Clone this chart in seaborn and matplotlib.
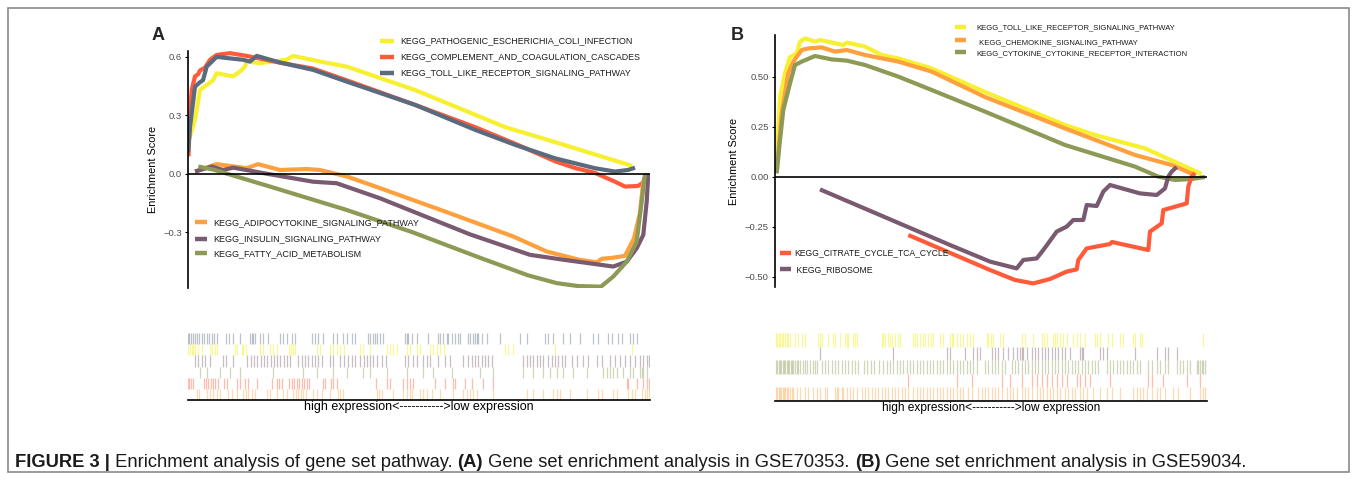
import matplotlib
matplotlib.use("Agg")
import matplotlib.pyplot as plt
from matplotlib.lines import Line2D
from matplotlib.patches import Rectangle
import seaborn as sns
import pandas as pd

# ---------------- estilo ----------------
sns.set_theme(style="white")
plt.rcParams["font.family"] = ["Liberation Sans", "DejaVu Sans"]
plt.rcParams["axes.unicode_minus"] = True

W, H = 1357, 480
AMARILLO = "#F7F030"
ROJO = "#FF5B3A"
GRIS_AZUL = "#5B6B7E"
NARANJA = "#FFA03E"
MORADO = "#7A5A70"
VERDE = "#8C9A56"
GRIS_TICK = "#4D4D4D"

# ---------------- datos panel A (GSE70353) ----------------
# curvas de enrichment score (posicion de rango, ES)
a_coli_x = [0, 7, 12, 25, 28.7, 45, 52, 57, 58.7, 72, 98.7, 105, 132, 158.7, 227, 317, 360, 444]
a_coli_y = [0.16, 0.277, 0.43, 0.48, 0.516, 0.50, 0.525, 0.55, 0.576, 0.568, 0.585, 0.605, 0.576, 0.55, 0.43, 0.24, 0.174, 0.041]
a_compl_x = [0.5, 2, 3.7, 7, 10, 12, 17, 22, 28.7, 42, 58.7, 92, 125, 158.7, 227, 287, 327, 367, 387, 407, 427, 437, 450, 455, 457, 459]
a_compl_y = [0.09, 0.30, 0.43, 0.50, 0.51, 0.53, 0.545, 0.585, 0.61, 0.619, 0.605, 0.57, 0.54, 0.48, 0.354, 0.24, 0.155, 0.065, 0.03, 0.005, -0.04, -0.065, -0.062, -0.045, -0.02, 0.0]
a_toll_x = [0, 2, 7, 12, 15, 18.7, 28.7, 38.7, 55, 62, 68.7, 92, 125.3, 158.7, 227, 287, 327, 367, 407, 427, 440, 447]
a_toll_y = [0.11, 0.24, 0.447, 0.47, 0.48, 0.55, 0.60, 0.594, 0.585, 0.576, 0.605, 0.571, 0.533, 0.473, 0.354, 0.226, 0.149, 0.08, 0.029, 0.012, 0.02, 0.032]
a_adipo_x = [7, 28.7, 58.7, 70, 92, 118.7, 132, 158.7, 192, 258.7, 325.3, 358.7, 392, 408.7, 414, 425, 437, 442, 446, 452, 455, 458]
a_adipo_y = [0.012, 0.05, 0.029, 0.05, 0.02, 0.025, 0.02, -0.013, -0.073, -0.196, -0.321, -0.398, -0.441, -0.453, -0.435, -0.43, -0.42, -0.37, -0.33, -0.2, -0.05, -0.005]
a_insul_x = [7, 23.7, 35, 45.3, 75.3, 125, 148.7, 192, 282, 342, 375.3, 425.3, 438.7, 448.7, 455.3, 458.7, 460.3]
a_insul_y = [0.012, 0.038, 0.02, 0.032, 0.004, -0.04, -0.048, -0.125, -0.31, -0.415, -0.44, -0.475, -0.45, -0.381, -0.313, -0.142, 0.0]
a_fatty_x = [10.3, 25.3, 82, 158.7, 225, 292, 340, 368.7, 390, 413, 425.3, 438.7, 448.7, 453.7, 457]
a_fatty_y = [0.038, 0.022, -0.065, -0.185, -0.3, -0.43, -0.52, -0.56, -0.575, -0.578, -0.526, -0.45, -0.347, -0.142, 0.0]

# posiciones de los genes (rug) panel A
a_rug_toll = [0, 1, 3, 5, 7, 9, 11, 14, 16, 19, 21, 24, 26, 29, 38, 41, 45, 52, 62, 64, 65, 67, 72, 75, 80, 92, 95, 99,
              104, 107, 124, 127, 130, 135, 145, 149, 155, 159, 164, 167, 180, 182, 185, 187, 189, 192, 195, 217, 219,
              220, 224, 229, 240, 250, 252, 255, 259, 260, 264, 267, 270, 272, 280, 282, 285, 287, 289, 290, 294, 299,
              312, 332, 339, 357, 360, 365, 375, 382, 392, 405, 410, 420, 424, 430, 434, 442, 445, 449]
a_rug_coli = [0, 2, 4, 5, 7, 10, 14, 22, 24, 27, 29, 47, 49, 54, 55, 58, 72, 75, 82, 85, 89, 101, 103, 105, 107, 129, 132,
              142, 145, 149, 152, 156, 172, 175, 182, 199, 202, 205, 209, 219, 222, 229, 232, 242, 245, 249, 252, 256,
              317, 320, 325, 367, 444]
a_rug_insul = [7, 10, 14, 17, 22, 35, 38, 45, 59, 63, 66, 69, 73, 76, 79, 83, 86, 89, 92, 96, 99, 102, 110, 114, 117, 120,
               124, 127, 130, 134, 142, 145, 152, 156, 160, 164, 167, 172, 176, 179, 182, 185, 189, 194, 198, 217, 220,
               225, 229, 235, 239, 242, 250, 257, 262, 275, 280, 284, 287, 290, 294, 297, 300, 304, 335, 339, 342, 345,
               349, 352, 355, 360, 364, 367, 370, 374, 377, 384, 389, 395, 400, 409, 414, 422, 427, 432, 437, 442, 447,
               452, 455, 459, 461]
a_rug_fatty = [12, 19, 32, 42, 52, 85, 115, 129, 145, 159, 175, 182, 199, 219, 235, 245, 264, 292, 305, 335, 345, 355, 362,
               369, 375, 385, 399, 415, 419, 422, 425, 429, 435, 442, 445, 452, 454, 455, 459]
a_rug_compl = [0, 1, 3, 5, 16, 18, 20, 23, 25, 27, 30, 36, 39, 49, 52, 57, 60, 69, 84, 89, 91, 94, 101, 104, 106, 109, 111,
               114, 116, 119, 121, 135, 137, 143, 145, 149, 188, 199, 202, 215, 219, 222, 225, 247, 257, 265, 267, 277,
               284, 295, 305, 439, 440, 449, 455, 459, 461]
a_rug_adipo = [9, 11, 19, 22, 25, 29, 32, 40, 44, 49, 55, 58, 60, 64, 67, 79, 82, 89, 95, 99, 105, 108, 110, 113, 115, 118,
               125, 129, 134, 142, 150, 152, 155, 189, 191, 194, 205, 215, 219, 222, 224, 232, 235, 239, 244, 252, 265,
               275, 279, 282, 285, 289, 305, 339, 345, 355, 365, 369, 372, 382, 399, 410, 414, 425, 429, 440, 444, 447,
               454, 457, 459, 461, 462]

# ---------------- datos panel B (GSE59034) ----------------
b_toll_x = [1.7, 5, 10, 15, 21.7, 25, 30, 40, 45, 68.3, 71.7, 90, 106.7, 123.3, 156.7, 210, 290, 320, 370, 426.7]
b_toll_y = [0.068, 0.40, 0.52, 0.60, 0.617, 0.677, 0.693, 0.677, 0.685, 0.66, 0.672, 0.652, 0.61, 0.593, 0.543, 0.425, 0.26, 0.21, 0.143, 0.015]
b_chemo_x = [1.7, 6.7, 13.3, 18.3, 26.7, 33.3, 46.7, 60, 71.7, 90, 123.3, 156.7, 210, 290, 360, 396.7, 420]
b_chemo_y = [0.027, 0.32, 0.52, 0.577, 0.635, 0.643, 0.648, 0.627, 0.635, 0.61, 0.577, 0.527, 0.40, 0.243, 0.11, 0.06, 0.01]
b_cyto_x = [1.7, 5, 8.3, 15, 20, 26.7, 40, 56.7, 71.7, 90, 123.3, 156.7, 210, 290, 360, 383.3, 400, 416.7, 430]
b_cyto_y = [0.018, 0.185, 0.335, 0.468, 0.56, 0.577, 0.605, 0.588, 0.582, 0.56, 0.502, 0.435, 0.327, 0.16, 0.052, 0.002, -0.015, -0.01, 0.0]
b_citrate_x = [133.3, 215, 240, 258.3, 275, 291.7, 301.7, 303.3, 311.7, 335, 337, 373.3, 375, 386.7, 388.3, 411.7, 413.3, 416.7, 420]
b_citrate_y = [-0.29, -0.465, -0.515, -0.532, -0.51, -0.473, -0.462, -0.415, -0.357, -0.335, -0.325, -0.365, -0.273, -0.232, -0.165, -0.132, -0.048, 0.002, 0.02]
b_ribo_x = [45, 175, 215, 241.7, 248.3, 261.7, 268.3, 281.7, 291.7, 298.3, 308.3, 311.7, 321.7, 328.3, 335, 365, 381.7, 390, 393.3, 396.7, 401.7]
b_ribo_y = [-0.062, -0.34, -0.423, -0.457, -0.415, -0.407, -0.365, -0.273, -0.248, -0.215, -0.215, -0.14, -0.145, -0.073, -0.04, -0.082, -0.09, -0.057, 0.002, 0.027, 0.05]

b_rug_toll = [1, 2, 4, 5, 7, 8, 10, 12, 13, 15, 20, 23, 27, 30, 43, 45, 47, 53, 58, 60, 65, 70, 72, 73, 78, 80, 82, 107,
              108, 110, 113, 115, 117, 120, 123, 125, 138, 140, 142, 145, 148, 150, 153, 156, 158, 165, 168, 175, 177,
              178, 182, 185, 188, 192, 195, 198, 212, 213, 216, 218, 225, 228, 247, 250, 258, 267, 269, 272, 278, 280,
              282, 285, 288, 292, 298, 302, 305, 310, 320, 322, 325, 333, 337, 345, 348, 358, 360, 365, 367, 428]
b_rug_ribo = [45, 118, 172, 175, 190, 198, 202, 205, 217, 220, 223, 228, 233, 238, 242, 245, 247, 248, 252, 257, 260, 263,
              267, 270, 273, 277, 280, 283, 287, 290, 295, 305, 307, 308, 325, 328, 332, 360, 382, 390, 393, 402]
b_rug_cyto = [1, 2, 4, 5, 6, 8, 9, 10, 12, 13, 14, 16, 17, 18, 20, 22, 23, 25, 28, 30, 32, 35, 38, 40, 42, 47, 50, 53, 57,
              60, 63, 67, 70, 73, 77, 80, 83, 89, 92, 96, 99, 104, 108, 112, 115, 118, 122, 125, 128, 132, 135, 138, 142,
              145, 148, 152, 155, 158, 162, 165, 168, 172, 175, 178, 182, 185, 188, 192, 195, 198, 202, 210, 213, 217,
              220, 223, 227, 230, 237, 240, 243, 247, 250, 253, 257, 260, 263, 267, 270, 273, 277, 280, 283, 287, 290,
              293, 297, 300, 303, 307, 310, 313, 317, 320, 323, 332, 335, 338, 342, 345, 348, 352, 355, 358, 362, 365,
              373, 377, 382, 385, 390, 393, 402, 405, 408, 412, 415, 422, 423, 425, 427, 428, 430, 432]
b_rug_citrate = [133, 182, 197, 227, 235, 247, 257, 262, 267, 272, 277, 282, 287, 292, 302, 305, 310, 315, 335, 373, 377,
                 388, 412, 425]
b_rug_chemo = [1, 2, 4, 5, 6, 8, 9, 10, 12, 13, 15, 17, 18, 22, 25, 30, 33, 38, 42, 45, 50, 52, 60, 62, 63, 67, 68, 72, 75,
               78, 82, 87, 90, 93, 97, 100, 103, 107, 110, 113, 117, 120, 123, 127, 130, 133, 138, 142, 145, 148, 152,
               155, 158, 162, 165, 168, 172, 175, 178, 182, 185, 188, 193, 197, 203, 207, 210, 213, 217, 220, 223, 227,
               232, 235, 238, 242, 247, 250, 253, 257, 262, 265, 268, 272, 275, 278, 282, 285, 290, 293, 297, 300, 305,
               308, 312, 318, 325, 332, 337, 345, 358, 362, 365, 368, 372, 377, 382, 385, 390, 398, 403, 415, 425, 428,
               430, 432]

# ---------------- helpers ----------------
def fx(px):
    return px / W


def fy(py):
    return 1 - py / H


def crear_eje(fig, x0, x1, y0, y1):
    # y0 arriba, y1 abajo en pixeles
    return fig.add_axes([fx(x0), fy(y1), fx(x1) - fx(x0), fy(y0) - fy(y1)])


def dibujar_curvas(ax, series):
    for xs, ys, color in series:
        sns.lineplot(x=xs, y=ys, color=color, linewidth=3, sort=False, estimator=None,
                     ax=ax, solid_capstyle="butt")


def estilo_curvas(ax, xmax, ylim, yticks):
    ax.set_xlim(0, xmax)
    ax.set_ylim(*ylim)
    ax.set_yticks(yticks)
    ax.axhline(0, color="black", linewidth=1.2, zorder=5)
    for s in ["top", "right", "bottom"]:
        ax.spines[s].set_visible(False)
    ax.spines["left"].set_color("black")
    ax.spines["left"].set_linewidth(1.2)
    ax.set_xticks([])
    ax.tick_params(axis="y", length=2.5, width=0.8, color="black", labelsize=6.8,
                   labelcolor=GRIS_TICK, left=True, pad=2)
    ax.set_ylabel("Enrichment Score", fontsize=7.8, color="black", labelpad=4)
    ax.set_xlabel("")
    ax.patch.set_alpha(0)


def dibujar_rug(ax, filas, xmax, etiqueta, tam):
    n = len(filas)
    for i, (pos, color) in enumerate(filas):
        ax.vlines(pos, n - i - 1, n - i, color=color, alpha=0.4, linewidth=0.9)
    ax.set_xlim(0, xmax)
    ax.set_ylim(0, n)
    ax.set_xticks([])
    ax.set_yticks([])
    for s in ["top", "right", "left"]:
        ax.spines[s].set_visible(False)
    ax.spines["bottom"].set_color("black")
    ax.spines["bottom"].set_linewidth(1.2)
    ax.set_xlabel(etiqueta, fontsize=tam, color="black", labelpad=0.5)
    ax.patch.set_alpha(0)


def leyenda(fig, items, x_handle, x_text, tam):
    for color, texto, py_h, py_t in items:
        fig.add_artist(Line2D([fx(x_handle[0]), fx(x_handle[1])], [fy(py_h), fy(py_h)],
                              color=color, linewidth=3.2, transform=fig.transFigure, solid_capstyle="butt"))
        fig.text(fx(x_text), fy(py_t), texto, fontsize=tam, color="#1a1a1a", va="center", ha="left")


# ---------------- figura ----------------
fig = plt.figure(figsize=(W / 100, H / 100), dpi=100)
fig.patch.set_facecolor("white")
fig.add_artist(Rectangle((fx(8), fy(472)), fx(1349) - fx(8), fy(8) - fy(472), transform=fig.transFigure,
                         fill=False, edgecolor="#8a8a8a", linewidth=1.2))

# Panel A
ax_a = crear_eje(fig, 188, 650, 51, 288)
dibujar_curvas(ax_a, [
    (a_coli_x, a_coli_y, AMARILLO),
    (a_compl_x, a_compl_y, ROJO),
    (a_toll_x, a_toll_y, GRIS_AZUL),
    (a_adipo_x, a_adipo_y, NARANJA),
    (a_insul_x, a_insul_y, MORADO),
    (a_fatty_x, a_fatty_y, VERDE),
])
estilo_curvas(ax_a, 462, (-0.585, 0.63), [-0.3, 0.0, 0.3, 0.6])

rug_a = crear_eje(fig, 188, 650, 333, 400)
dibujar_rug(rug_a, [
    (a_rug_toll, GRIS_AZUL),
    (a_rug_coli, "#F2EE00"),
    (a_rug_insul, MORADO),
    (a_rug_fatty, VERDE),
    (a_rug_compl, ROJO),
    (a_rug_adipo, NARANJA),
], 462, "high expression<----------->low expression", 9.0)

leyenda(fig, [
    (AMARILLO, "KEGG_PATHOGENIC_ESCHERICHIA_COLI_INFECTION", 40.7, 40.7),
    (ROJO, "KEGG_COMPLEMENT_AND_COAGULATION_CASCADES", 56.5, 56.5),
    (GRIS_AZUL, "KEGG_TOLL_LIKE_RECEPTOR_SIGNALING_PATHWAY", 72.5, 72.5),
], (380.5, 393.5), 400.5, 6.4)
leyenda(fig, [
    (NARANJA, "KEGG_ADIPOCYTOKINE_SIGNALING_PATHWAY", 222.3, 222.3),
    (MORADO, "KEGG_INSULIN_SIGNALING_PATHWAY", 239, 239),
    (VERDE, "KEGG_FATTY_ACID_METABOLISM", 253.5, 253.5),
], (195, 206.5), 213.3, 6.5)

# Panel B
ax_b = crear_eje(fig, 775, 1207, 35, 287)
dibujar_curvas(ax_b, [
    (b_toll_x, b_toll_y, AMARILLO),
    (b_chemo_x, b_chemo_y, NARANJA),
    (b_cyto_x, b_cyto_y, VERDE),
    (b_citrate_x, b_citrate_y, ROJO),
    (b_ribo_x, b_ribo_y, MORADO),
])
estilo_curvas(ax_b, 432, (-0.55, 0.71), [-0.5, -0.25, 0.0, 0.25, 0.5])

rug_b = crear_eje(fig, 775, 1207, 333, 401)
dibujar_rug(rug_b, [
    (b_rug_toll, "#F2EE00"),
    (b_rug_ribo, MORADO),
    (b_rug_cyto, VERDE),
    (b_rug_citrate, ROJO),
    (b_rug_chemo, NARANJA),
], 432, "high expression<----------->low expression", 8.6)

leyenda(fig, [
    (AMARILLO, "KEGG_TOLL_LIKE_RECEPTOR_SIGNALING_PATHWAY", 26.7, 27.3),
    (NARANJA, " KEGG_CHEMOKINE_SIGNALING_PATHWAY", 40, 42.7),
    (VERDE, "KEGG_CYTOKINE_CYTOKINE_RECEPTOR_INTERACTION", 52.3, 54),
], (955, 966), 976.7, 5.5)
leyenda(fig, [
    (ROJO, "KEGG_CITRATE_CYCLE_TCA_CYCLE", 252.7, 252.7),
    (MORADO, " KEGG_RIBOSOME", 268.5, 269.5),
], (780, 790.7), 794, 6.2)

# letras de panel
fig.text(fx(152), fy(35), "A", fontsize=13, fontweight="bold", va="center", ha="left")
fig.text(fx(731), fy(35), "B", fontsize=13, fontweight="bold", va="center", ha="left")

# pie de figura con partes en negrita
partes = [
    ("FIGURE 3 |", "bold"),
    (" Enrichment analysis of gene set pathway. ", "normal"),
    ("(A)", "bold"),
    (" Gene set enrichment analysis in GSE70353. ", "normal"),
    ("(B)", "bold"),
    (" Gene set enrichment analysis in GSE59034.", "normal"),
]
renderer = fig.canvas.get_renderer()
x_actual = 15
for texto, peso in partes:
    t = fig.text(fx(x_actual), fy(462.5), texto, fontsize=13.2, fontweight=peso, va="center", ha="left",
                 color="#1a1a1a")
    x_actual += t.get_window_extent(renderer).width

fig.savefig("out.png", dpi=100, facecolor="white")
